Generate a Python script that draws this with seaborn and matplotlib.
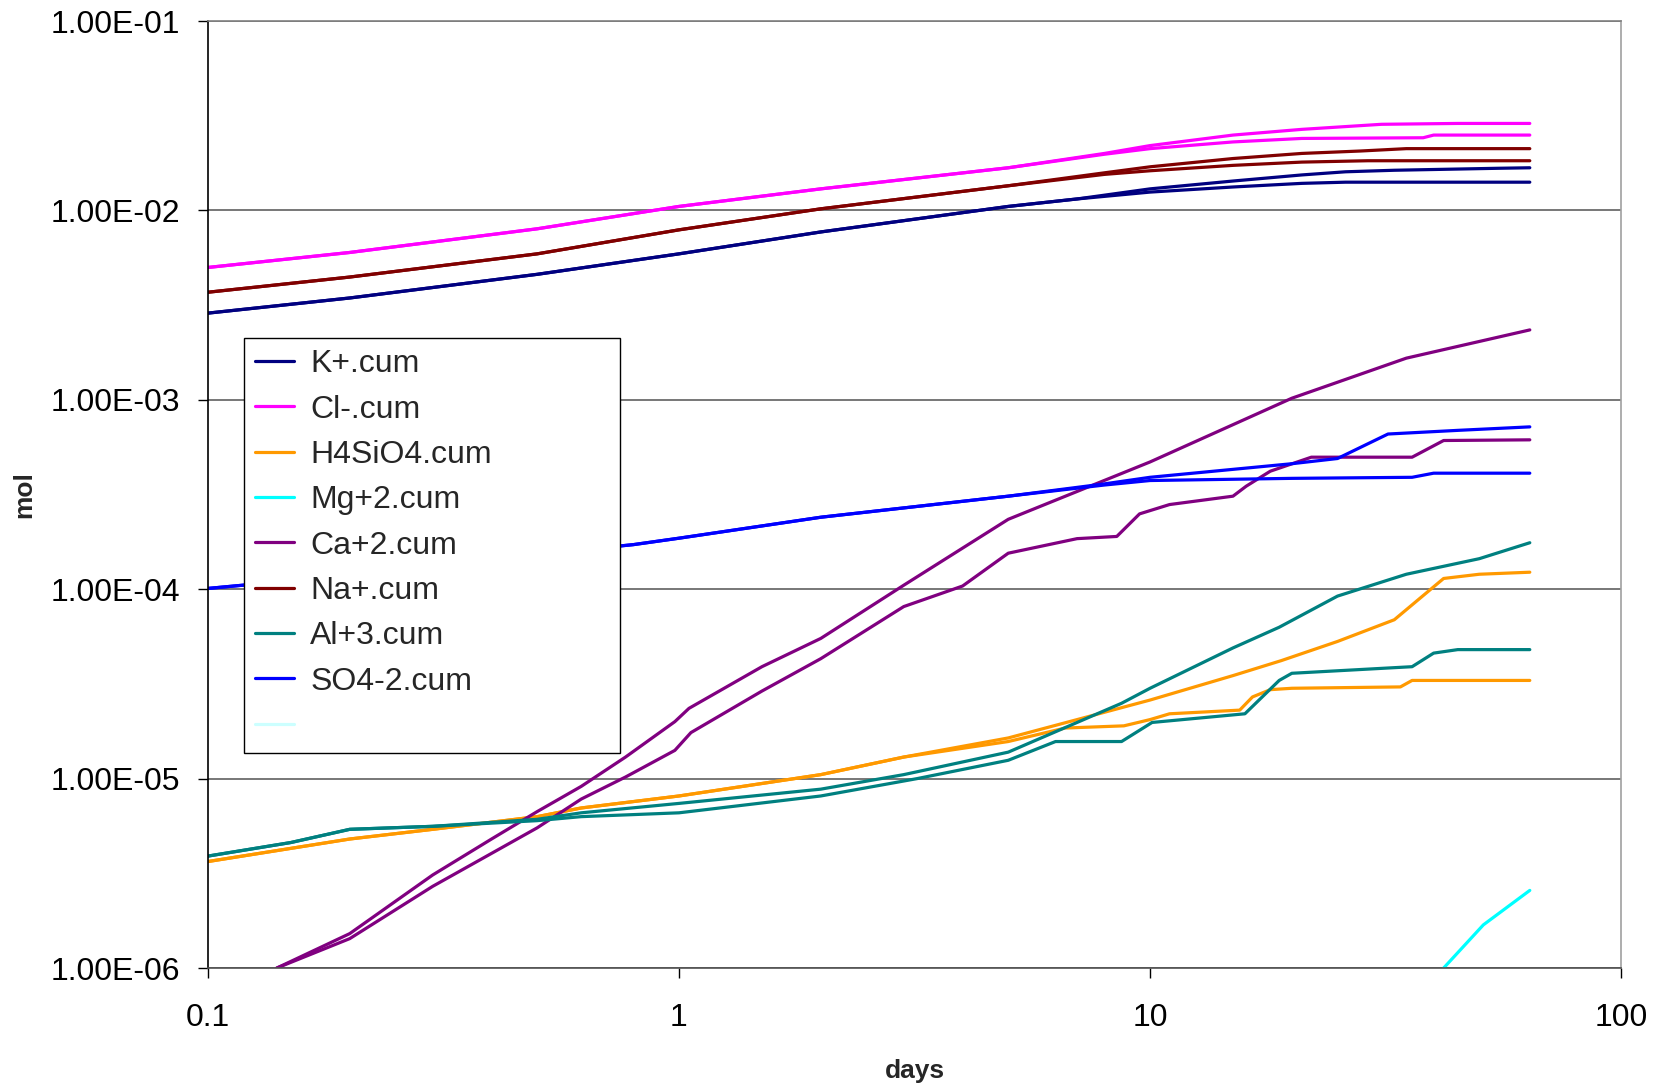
import numpy as np
import pandas as pd
import matplotlib
matplotlib.use('Agg')
import matplotlib.pyplot as plt
from matplotlib.lines import Line2D
from matplotlib.ticker import FuncFormatter, NullLocator, LogLocator
import seaborn as sns

# species shown in legend order
species = ['K+.cum', 'Cl-.cum', 'H4SiO4.cum', 'Mg+2.cum', 'Ca+2.cum', 'Na+.cum', 'Al+3.cum', 'SO4-2.cum']
colors = ['#000080', '#FF00FF', '#FF9900', '#00FFFF', '#800080', '#800000', '#008080', '#0000FF']

# two runs (a, b) per species
k_days_a = [0.1, 0.2, 0.5, 1, 2, 5, 7, 10, 15, 21, 26, 33, 55, 64]
k_mol_a = [2.87e-3, 3.45e-3, 4.6e-3, 5.9e-3, 7.7e-3, 1.05e-2, 1.15e-2, 1.3e-2, 1.43e-2, 1.54e-2, 1.6e-2, 1.63e-2, 1.67e-2, 1.68e-2]
k_days_b = [0.1, 0.2, 0.5, 1, 2, 5, 7, 10, 15, 21, 26, 64]
k_mol_b = [2.87e-3, 3.45e-3, 4.6e-3, 5.9e-3, 7.7e-3, 1.05e-2, 1.15e-2, 1.25e-2, 1.33e-2, 1.39e-2, 1.41e-2, 1.41e-2]

cl_days_a = [0.1, 0.2, 0.5, 1, 2, 5, 8, 10, 15, 21, 31, 45, 64]
cl_mol_a = [5.0e-3, 6.0e-3, 8.0e-3, 1.05e-2, 1.3e-2, 1.68e-2, 2.0e-2, 2.2e-2, 2.5e-2, 2.68e-2, 2.85e-2, 2.88e-2, 2.88e-2]
cl_days_b = [0.1, 0.2, 0.5, 1, 2, 5, 8, 10, 15, 21, 38, 40, 64]
cl_mol_b = [5.0e-3, 6.0e-3, 8.0e-3, 1.05e-2, 1.3e-2, 1.68e-2, 1.98e-2, 2.12e-2, 2.3e-2, 2.4e-2, 2.42e-2, 2.5e-2, 2.5e-2]

si_days_a = [0.1, 0.2, 0.3, 0.5, 0.62, 1, 2, 3, 5, 7, 10, 15, 19, 25, 33, 42, 50, 64]
si_mol_a = [3.65e-6, 4.8e-6, 5.4e-6, 6.3e-6, 7.0e-6, 8.1e-6, 1.05e-5, 1.3e-5, 1.64e-5, 2.05e-5, 2.6e-5, 3.5e-5, 4.2e-5, 5.3e-5, 6.9e-5, 1.14e-4, 1.2e-4, 1.23e-4]
si_days_b = [0.1, 0.2, 0.3, 0.5, 0.62, 1, 2, 3, 5, 6.6, 8.8, 10, 11, 15.5, 16.5, 18, 20, 34, 36, 64]
si_mol_b = [3.65e-6, 4.8e-6, 5.4e-6, 6.3e-6, 7.0e-6, 8.1e-6, 1.05e-5, 1.3e-5, 1.57e-5, 1.85e-5, 1.9e-5, 2.05e-5, 2.2e-5, 2.3e-5, 2.7e-5, 2.95e-5, 3.0e-5, 3.05e-5, 3.3e-5, 3.3e-5]

mg_days_a = [42, 51, 64]
mg_mol_a = [1.0e-6, 1.69e-6, 2.57e-6]

ca_days_a = [0.14, 0.2, 0.3, 0.4, 0.5, 0.62, 0.77, 0.98, 1.05, 1.5, 2, 3, 5, 10, 20, 35, 64]
ca_mol_a = [1.0e-6, 1.52e-6, 3.1e-6, 4.8e-6, 6.7e-6, 9.1e-6, 1.3e-5, 2.0e-5, 2.35e-5, 3.9e-5, 5.5e-5, 1.05e-4, 2.34e-4, 4.7e-4, 1.02e-3, 1.66e-3, 2.34e-3]
ca_days_b = [0.14, 0.2, 0.3, 0.5, 0.62, 0.77, 0.98, 1.06, 1.5, 2, 3, 4, 5, 7, 8.5, 9.5, 11, 15, 16, 18, 22, 36, 42, 64]
ca_mol_b = [1.0e-6, 1.43e-6, 2.7e-6, 5.5e-6, 7.8e-6, 1.02e-5, 1.41e-5, 1.75e-5, 2.9e-5, 4.3e-5, 8.1e-5, 1.04e-4, 1.55e-4, 1.85e-4, 1.9e-4, 2.5e-4, 2.8e-4, 3.1e-4, 3.5e-4, 4.2e-4, 4.98e-4, 4.98e-4, 6.1e-4, 6.15e-4]

na_days_a = [0.1, 0.2, 0.5, 1, 2, 5, 8, 10, 15, 21, 28, 35, 64]
na_mol_a = [3.7e-3, 4.45e-3, 5.9e-3, 7.9e-3, 1.02e-2, 1.35e-2, 1.58e-2, 1.7e-2, 1.88e-2, 2.0e-2, 2.06e-2, 2.12e-2, 2.12e-2]
na_days_b = [0.1, 0.2, 0.5, 1, 2, 5, 8, 10, 15, 21, 29, 64]
na_mol_b = [3.7e-3, 4.45e-3, 5.9e-3, 7.9e-3, 1.02e-2, 1.35e-2, 1.55e-2, 1.62e-2, 1.73e-2, 1.8e-2, 1.83e-2, 1.83e-2]

al_days_a = [0.1, 0.15, 0.2, 0.3, 0.5, 0.62, 1, 2, 3, 5, 8.7, 10, 15, 18.8, 25, 35, 50, 64]
al_mol_a = [3.9e-6, 4.6e-6, 5.4e-6, 5.6e-6, 6.1e-6, 6.6e-6, 7.4e-6, 8.8e-6, 1.05e-5, 1.38e-5, 2.5e-5, 3.0e-5, 4.9e-5, 6.3e-5, 9.2e-5, 1.2e-4, 1.45e-4, 1.76e-4]
al_days_b = [0.1, 0.15, 0.2, 0.3, 0.5, 0.62, 1, 2, 3.2, 5, 6.3, 8.7, 10.1, 15.9, 18.8, 20, 36, 40, 45, 64]
al_mol_b = [3.9e-6, 4.6e-6, 5.4e-6, 5.6e-6, 6.0e-6, 6.3e-6, 6.6e-6, 8.1e-6, 1.0e-5, 1.25e-5, 1.57e-5, 1.57e-5, 1.98e-5, 2.2e-5, 3.3e-5, 3.6e-5, 3.9e-5, 4.6e-5, 4.8e-5, 4.8e-5]

so4_days_a = [0.1, 0.3, 0.6, 0.8, 1, 2, 5, 8, 10, 20, 25, 32, 45, 64]
so4_mol_a = [1.01e-4, 1.3e-4, 1.6e-4, 1.72e-4, 1.86e-4, 2.4e-4, 3.1e-4, 3.6e-4, 3.9e-4, 4.6e-4, 4.9e-4, 6.6e-4, 6.9e-4, 7.2e-4]
so4_days_b = [0.1, 0.3, 0.6, 0.8, 1, 2, 5, 8, 10, 20, 36, 40, 64]
so4_mol_b = [1.01e-4, 1.3e-4, 1.6e-4, 1.72e-4, 1.86e-4, 2.4e-4, 3.1e-4, 3.55e-4, 3.75e-4, 3.85e-4, 3.9e-4, 4.1e-4, 4.1e-4]

series = [
    ('K+.cum', 'a', k_days_a, k_mol_a), ('K+.cum', 'b', k_days_b, k_mol_b),
    ('Cl-.cum', 'a', cl_days_a, cl_mol_a), ('Cl-.cum', 'b', cl_days_b, cl_mol_b),
    ('H4SiO4.cum', 'a', si_days_a, si_mol_a), ('H4SiO4.cum', 'b', si_days_b, si_mol_b),
    ('Mg+2.cum', 'a', mg_days_a, mg_mol_a),
    ('Ca+2.cum', 'a', ca_days_a, ca_mol_a), ('Ca+2.cum', 'b', ca_days_b, ca_mol_b),
    ('Na+.cum', 'a', na_days_a, na_mol_a), ('Na+.cum', 'b', na_days_b, na_mol_b),
    ('Al+3.cum', 'a', al_days_a, al_mol_a), ('Al+3.cum', 'b', al_days_b, al_mol_b),
    ('SO4-2.cum', 'a', so4_days_a, so4_mol_a), ('SO4-2.cum', 'b', so4_days_b, so4_mol_b),
]

rows = []
for sp, run, d, m in series:
    for x, y in zip(d, m):
        rows.append({'species': sp, 'run': run, 'days': x, 'mol': y})
df = pd.DataFrame(rows)

sns.set_theme(style='white')
plt.rcParams['font.family'] = ['Liberation Sans', 'DejaVu Sans']

fig = plt.figure(figsize=(16.53, 10.85), dpi=100)
ax = fig.add_axes([0.1258, 0.1078, 0.8549, 0.8728])
ax.set_xscale('log')
ax.set_yscale('log')

sns.lineplot(data=df, x='days', y='mol', hue='species', units='run', estimator=None,
             hue_order=species, palette=dict(zip(species, colors)), lw=2.3,
             legend=False, ax=ax)

ax.set_xlim(0.1, 100)
ax.set_ylim(1e-6, 1e-1)
ax.xaxis.set_major_locator(LogLocator(base=10, numticks=10))
ax.yaxis.set_major_locator(LogLocator(base=10, numticks=10))
ax.xaxis.set_minor_locator(NullLocator())
ax.yaxis.set_minor_locator(NullLocator())
ax.xaxis.set_major_formatter(FuncFormatter(lambda v, p: f"{v:g}"))
ax.yaxis.set_major_formatter(FuncFormatter(lambda v, p: f"{v:.2E}"))

ax.grid(axis='y', color='#606060', lw=1.2)
ax.grid(axis='x', visible=False)
ax.set_axisbelow(True)
ax.tick_params(axis='both', which='major', direction='out', length=7, width=1,
               color='black', labelsize=23, labelcolor='black', left=True, bottom=True)
ax.tick_params(axis='x', pad=18)
ax.tick_params(axis='y', pad=13)
ax.spines['left'].set_color('black')
ax.spines['bottom'].set_color('#505050')
ax.spines['top'].set_color('#808080')
ax.spines['right'].set_color('#A0A0A0')
for s in ax.spines.values():
    s.set_linewidth(1.2)

ax.set_xlabel('days', fontsize=19, fontweight='bold', labelpad=19)
ax.set_ylabel('mol', fontsize=19, fontweight='bold', labelpad=10)

handles = [Line2D([], [], color=c, lw=2.3) for c in colors]
handles.append(Line2D([], [], color='#CCFFFF', lw=2.3))
labels = species + [' ']
leg = ax.legend(handles, labels, loc='upper left', mode='expand',
                bbox_to_anchor=(0.0255, 0.2334, 0.2661, 0.4319), borderaxespad=0,
                fontsize=23, frameon=True, fancybox=False, shadow=False,
                handlelength=1.22, handletextpad=0.5, labelspacing=0.48,
                borderpad=0.35)
leg.get_frame().set_edgecolor('black')
leg.get_frame().set_linewidth(1.0)
leg.get_frame().set_alpha(1)

fig.savefig('out.png', dpi=100)
